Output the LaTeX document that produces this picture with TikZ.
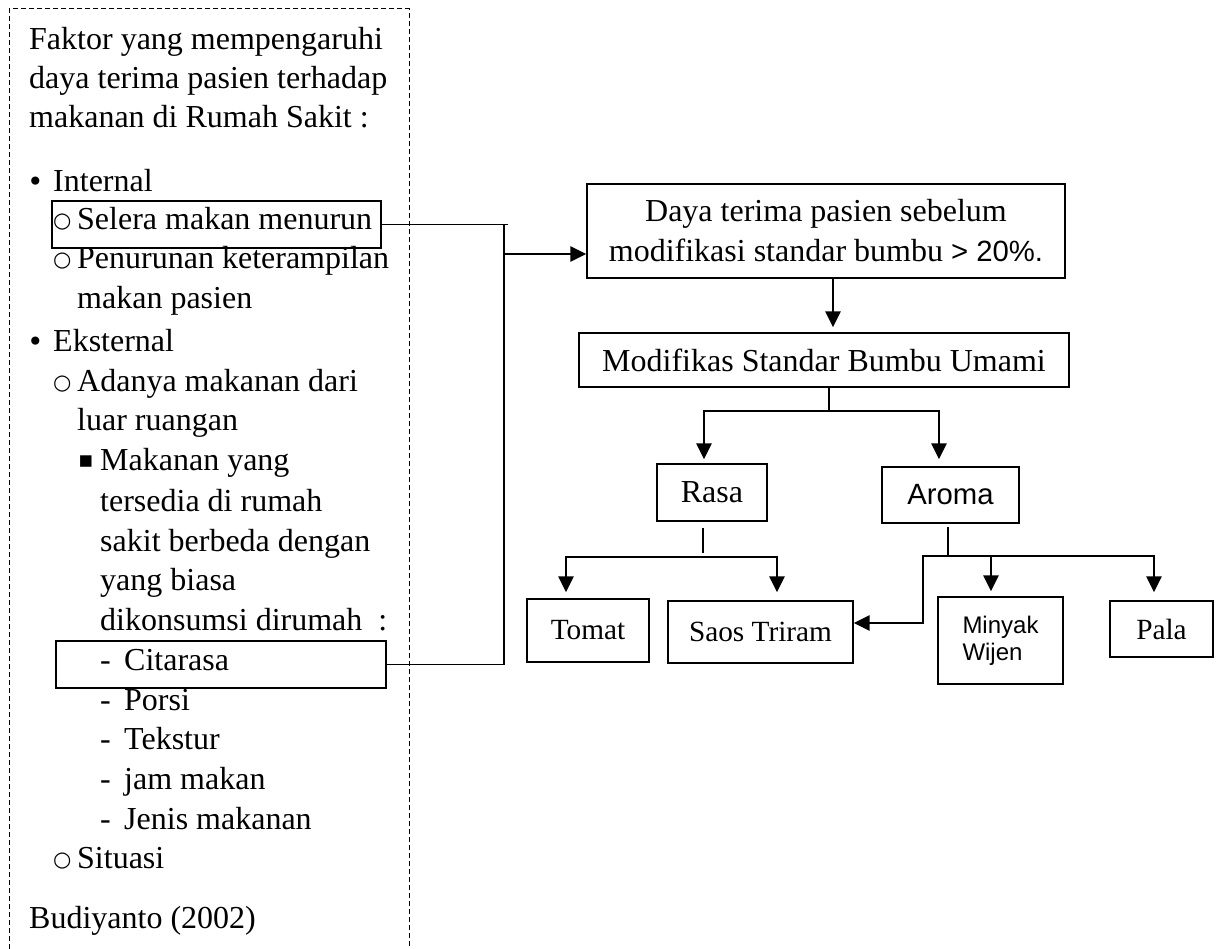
\documentclass[tikz,border=0pt]{standalone}
\usepackage{fontspec}
\setmainfont{Liberation Serif}
\newfontfamily\arialfont{Liberation Sans}
\newfontfamily\symfont{DejaVu Sans}
\usetikzlibrary{arrows.meta}

\tikzset{
	txt/.style = {anchor=base west, inner sep=0pt, font=\fontsize{32}{40}\selectfont},
	dot/.style = {txt, font=\symfont\fontsize{28}{40}\selectfont},
	circ/.style = {txt, font=\symfont\fontsize{21}{40}\selectfont},
	box/.style = {draw, line width=1.3pt, inner sep=0pt, align=center, font=\fontsize{32}{40}\selectfont},
	hl/.style = {draw, line width=2.5pt, inner sep=0pt},
	link/.style = {line width=1.3pt},
	arr/.style = {line width=2.6pt, arrows = {-Triangle[length=16pt, width=15pt]}}
}

\begin{document}
\begin{tikzpicture}[x=1pt, y=-1pt]
	\useasboundingbox (0,0) rectangle (1221,949);

		% left column
		\draw[line width=1pt, dash pattern=on 5pt off 3pt] (9,949) -- (9,9) -- (409,9) -- (409,949);
		\node[txt] (f1) at (29,50) {Faktor yang mempengaruhi};
		\node[txt] (f2) at (29,89) {daya terima pasien terhadap};
		\node[txt] (f3) at (29,128) {makanan di Rumah Sakit :};
		\node[dot] (b1) at (27,192) {•};
		\node[txt] (int) at (53,192) {Internal};
		\node[circ] (o1) at (53,228) {○};
		\node[txt] (selt) at (77,230) {Selera makan menurun};
		\node[circ] (o2) at (53,267) {○};
		\node[txt] (pen1) at (77,269) {Penurunan keterampilan};
		\node[txt] (pen2) at (77,309) {makan pasien};
		\node[dot] (b2) at (27,352) {•};
		\node[txt] (eks) at (53,352) {Eksternal};
		\node[circ] (o3) at (53,390) {○};
		\node[txt] (ada1) at (77,392) {Adanya makanan dari};
		\node[txt] (ada2) at (77,431) {luar ruangan};
		\node[txt, font=\symfont\fontsize{23}{40}\selectfont] (sq) at (78,467) {▪};
		\node[txt] (mk1) at (100,470) {Makanan yang};
		\node[txt] (mk2) at (100,511) {tersedia di rumah};
		\node[txt] (mk3) at (100,551) {sakit berbeda dengan};
		\node[txt] (mk4) at (100,590) {yang biasa};
		\node[txt] (mk5) at (100,630) {dikonsumsi dirumah\ \ :};
		\node[txt] (d1) at (100,670) {-};
		\node[txt] (citt) at (124,670) {Citarasa};
		\node[txt] (d2) at (100,710) {-};
		\node[txt] (por) at (124,710) {Porsi};
		\node[txt] (d3) at (100,749) {-};
		\node[txt] (tek) at (124,749) {Tekstur};
		\node[txt] (d4) at (100,789) {-};
		\node[txt] (jam) at (124,789) {jam makan};
		\node[txt] (d5) at (100,829) {-};
		\node[txt] (jen) at (124,829) {Jenis makanan};
		\node[circ] (o4) at (53,866) {○};
		\node[txt] (sit) at (77,868) {Situasi};
		\node[txt] (bud) at (29,928) {Budiyanto (2002)};
		\node[hl, minimum width=329pt, minimum height=47pt] (sel) at (216.5,224.5) {};
		\node[hl, minimum width=330pt, minimum height=47pt] (cit) at (221,664.5) {};

		% right side
		\node[box, minimum width=478pt, minimum height=94pt] (daya) at (826,231) {Daya terima pasien sebelum\\modifikasi standar bumbu {\arialfont\fontsize{29.3}{40}\selectfont > 20\%.}};
		\node[box, minimum width=490pt, minimum height=54pt] (modif) at (824,360) {Modifikas Standar Bumbu Umami};
		\node[box, minimum width=110pt, minimum height=57pt] (rasa) at (712,492.5) {Rasa};
		\node[box, minimum width=137pt, minimum height=56pt, font=\arialfont\fontsize{29.3}{34}\selectfont] (aroma) at (950.5,495) {Aroma};
		\node[box, minimum width=122pt, minimum height=63pt, font=\fontsize{29.3}{34}\selectfont] (tomat) at (588,630.5) {Tomat};
		\node[box, minimum width=185pt, minimum height=62pt, font=\fontsize{29.3}{34}\selectfont] (saos) at (760.5,632) {Saos Triram};
		\node[box, minimum width=125pt, minimum height=87pt, align=left, font=\arialfont\fontsize{24}{27}\selectfont] (minyak) at (1000.5,640.5) {Minyak\\Wijen};
		\node[box, minimum width=103pt, minimum height=56pt, font=\fontsize{29.3}{34}\selectfont] (pala) at (1161.5,629) {Pala};

		\coordinate (trunk) at (504,0);
		\coordinate (feed) at (504,254);
		\draw[link] (sel.east) -- ([xshift=4pt]sel.east -| trunk);
		\draw[link] (sel.east -| trunk) |- (cit.east);
		\draw[arr] (feed) -- (feed -| daya.west);
		\draw[arr, shorten >=5pt] ([xshift=7pt]daya.south) -- ([xshift=7pt]daya.south |- modif.north);

		\coordinate (split1) at (829,411);
		\draw[link] (modif.south -| split1) -- (split1);
		\draw[arr, shorten >=4pt] (split1) -| ([xshift=-8pt]rasa.north);
		\draw[arr, shorten >=7pt] (split1) -| ([xshift=-11.5pt]aroma.north);

		\coordinate (split2) at (703,557);
		\draw[link, shorten <=6pt, shorten >=4pt] ([xshift=-9pt]rasa.south) -- (split2);
		\draw[arr, shorten >=6pt] (split2) -| ([xshift=-22pt]tomat.north);
		\draw[arr, shorten >=8pt] (split2) -| ([xshift=16.5pt]saos.north);

		\coordinate (split3) at (948,556);
		\coordinate (bend) at (923,623);
		\draw[link, shorten <=3pt] ([xshift=-2.5pt]aroma.south) -- (split3);
		\draw[arr, shorten >=5pt] (split3) -| ([xshift=-9.5pt]minyak.north);
		\draw[arr, shorten >=8pt] (split3) -| ([xshift=-7.5pt]pala.north);
		\draw[arr] (split3) -| (bend) -- (bend -| saos.east);
	\end{tikzpicture}
\end{document}
